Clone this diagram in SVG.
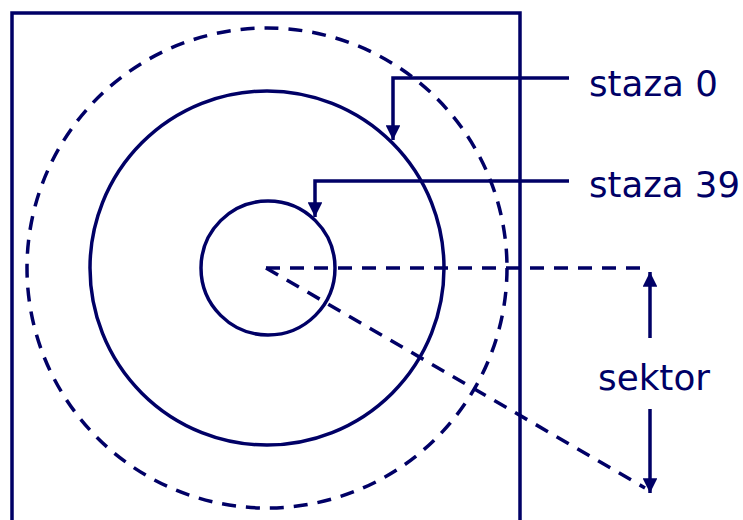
<svg xmlns="http://www.w3.org/2000/svg" width="743" height="520" viewBox="0 0 743 520">
<style>
.s{fill:none;stroke:#000066;stroke-width:3.5}
.d{fill:none;stroke:#000066;stroke-width:3.5;stroke-dasharray:14 10}
.t{font-family:"DejaVu Sans",Verdana,sans-serif;font-size:35px;fill:#000066}
</style>
<defs>
<marker id="ah" viewBox="0 0 10 10" refX="10" refY="5" markerWidth="4.2" markerHeight="4.2" markerUnits="strokeWidth" orient="auto">
<path d="M0,0 L10,5 L0,10 z" fill="#000066"/>
</marker>
</defs>
<rect width="743" height="520" fill="#ffffff"/>
<g id="disk">
<rect class="s" x="12" y="13" width="508" height="520"/>
</g>
<g id="outer-dashed">
<circle class="d" cx="267" cy="268" r="240"/>
</g>
<g id="track0">
<circle class="s" cx="267" cy="268" r="177"/>
</g>
<g id="track39">
<circle class="s" cx="268" cy="268" r="67"/>
</g>
<g id="connectors">
<path class="s" d="M569,78 H393 V140" marker-end="url(#ah)"/>
<path class="s" d="M569,181 H315 V217" marker-end="url(#ah)"/>
<path class="d" d="M266,268 H648"/>
<path class="d" d="M266,268 L645,488"/>
<path class="s" d="M650,338 V272" marker-end="url(#ah)"/>
<path class="s" d="M650,409 V493" marker-end="url(#ah)"/>
</g>
<g id="labels">
<text class="t" x="589" y="96" textLength="129" lengthAdjust="spacingAndGlyphs">staza 0</text>
<text class="t" x="589" y="197" textLength="151" lengthAdjust="spacingAndGlyphs">staza 39</text>
<text class="t" x="598" y="390" textLength="112" lengthAdjust="spacingAndGlyphs">sektor</text>
</g>
</svg>
